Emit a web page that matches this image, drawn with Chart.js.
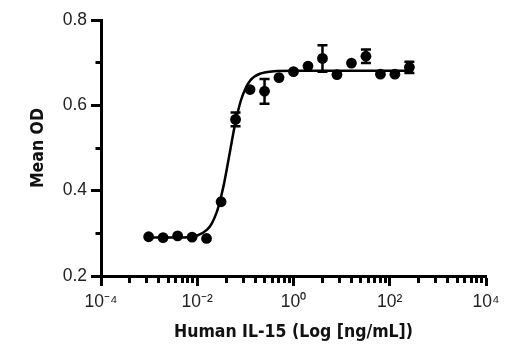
<!DOCTYPE html>
<html>
<head>
<meta charset="utf-8">
<script src="https://cdn.jsdelivr.net/npm/chart.js@4.4.1/dist/chart.umd.min.js"></script>
<style>
  html, body { margin: 0; padding: 0; background: #fff; }
  canvas { display: block; }
</style>
</head>
<body>
<canvas id="chart" width="520" height="350"></canvas>
<script>
// Human IL-15 concentrations (ng/mL), twofold dilution series
const concentrations = [0.000977, 0.00195, 0.00391, 0.00781, 0.0156, 0.0313, 0.0625, 0.125, 0.25, 0.5,
                        1, 2, 4, 8, 16, 32, 64, 128, 256];
// Mean optical density at each concentration
const meanOD = [0.292, 0.290, 0.294, 0.291, 0.288, 0.374, 0.567, 0.637, 0.633, 0.665,
                0.679, 0.692, 0.710, 0.672, 0.699, 0.715, 0.673, 0.673, 0.689];
// Error (+/-) on the mean OD; 0 where the bar hides behind the marker
const odError = [0, 0, 0, 0, 0, 0, 0.016, 0, 0.029, 0,
                 0, 0, 0.031, 0, 0, 0.016, 0, 0, 0.013];

// Fitted dose-response curve
const fitConc = [0.000977, 0.004, 0.01, 0.0158, 0.02, 0.0251, 0.0282, 0.0316, 0.0355, 0.0398,
                 0.0447, 0.0501, 0.0562, 0.0631, 0.0794, 0.1, 0.126, 0.158, 0.2, 0.251,
                 0.398, 1, 10, 256];
const fitOD = [0.290, 0.290, 0.295, 0.308, 0.323, 0.348, 0.366, 0.388, 0.413, 0.442,
               0.473, 0.504, 0.535, 0.563, 0.609, 0.639, 0.658, 0.668, 0.674, 0.677,
               0.680, 0.681, 0.681, 0.681];

// Axis ticks
const xMajorTicks = [1e-4, 1e-2, 1, 1e2, 1e4];
const xMajorLabels = ['10\u207B\u2074', '10\u207B\u00B2', '10\u2070', '10\u00B2', '10\u2074'];
const xMinorSteps = [4, 9, 16, 25, 36, 49, 64, 81];
const yTicks = [0.2, 0.3, 0.4, 0.5, 0.6, 0.7, 0.8];
const yTickLabels = ['0.2', '', '0.4', '', '0.6', '', '0.8'];

const tickFont = { family: "'Liberation Sans', Arial, sans-serif", size: 17.5 };
const titleFont = { family: "'DejaVu Sans Condensed', 'DejaVu Sans', sans-serif", size: 17.5, weight: 'bold' };

function majorIndex(v) {
  return xMajorTicks.findIndex(m => Math.abs(Math.log10(v) - Math.log10(m)) < 1e-6);
}

// vertical error bars with caps, placed through the chart scales
const errorBars = {
  id: 'errorBars',
  afterDatasetsDraw(chart) {
    const { ctx, scales: { x, y } } = chart;
    ctx.save();
    ctx.strokeStyle = '#000';
    ctx.lineWidth = 2.5;
    concentrations.forEach((c, i) => {
      const e = odError[i];
      if (!e) return;
      const px = x.getPixelForValue(c);
      const top = y.getPixelForValue(meanOD[i] + e);
      const bot = y.getPixelForValue(meanOD[i] - e);
      ctx.beginPath();
      ctx.moveTo(px, top); ctx.lineTo(px, bot);
      ctx.moveTo(px - 5, top); ctx.lineTo(px + 5, top);
      ctx.moveTo(px - 5, bot); ctx.lineTo(px + 5, bot);
      ctx.stroke();
    });
    ctx.restore();
  }
};

new Chart(document.getElementById('chart'), {
  type: 'scatter',
  data: {
    datasets: [
      {
        label: 'Fit',
        data: fitConc.map((c, i) => ({ x: c, y: fitOD[i] })),
        showLine: true,
        borderColor: '#000',
        borderWidth: 2.5,
        pointRadius: 0,
        pointHoverRadius: 0,
        cubicInterpolationMode: 'monotone',
        order: 2
      },
      {
        label: 'Mean OD',
        data: concentrations.map((c, i) => ({ x: c, y: meanOD[i] })),
        showLine: false,
        pointRadius: 5.4,
        pointBackgroundColor: '#000',
        pointBorderWidth: 0,
        order: 1
      }
    ]
  },
  options: {
    responsive: false,
    animation: false,
    devicePixelRatio: 1,
    layout: { padding: { left: 0, top: 20, right: 34, bottom: 0 } },
    plugins: { legend: { display: false }, tooltip: { enabled: false } },
    scales: {
      x: {
        type: 'logarithmic',
        position: 'bottom',
        min: 1e-4,
        max: 1e4,
        afterBuildTicks(scale) {
          const vals = [];
          xMajorTicks.forEach((m, i) => {
            vals.push(m);
            if (i < xMajorTicks.length - 1) xMinorSteps.forEach(s => vals.push(m * s));
          });
          scale.ticks = vals.map(v => ({ value: v }));
        },
        afterFit(scale) { scale.height = 74; },
        border: { display: true, color: '#000', width: 3 },
        grid: {
          display: true,
          drawOnChartArea: false,
          drawTicks: true,
          tickLength: 10,
          tickWidth: 3,
          tickColor: '#000',
          tickBorderDash: ctx => (ctx.tick && majorIndex(ctx.tick.value) < 0) ? [5, 100] : []
        },
        ticks: {
          autoSkip: false,
          maxRotation: 0,
          minRotation: 0,
          padding: 6,
          color: '#222',
          font: tickFont,
          callback: (v) => {
            const i = majorIndex(v);
            return i >= 0 ? xMajorLabels[i] : '';
          }
        },
        title: {
          display: true,
          text: 'Human IL-15 (Log [ng/mL])',
          color: '#111',
          font: titleFont,
          padding: { top: 0, bottom: 7 }
        }
      },
      y: {
        type: 'linear',
        position: 'left',
        min: 0.2,
        max: 0.8,
        afterBuildTicks(scale) {
          scale.ticks = yTicks.map(v => ({ value: v }));
        },
        afterFit(scale) { scale.width = 101; },
        border: { display: true, color: '#000', width: 3 },
        grid: {
          display: true,
          drawOnChartArea: false,
          drawTicks: true,
          tickLength: 10,
          tickWidth: 3,
          tickColor: '#000',
          tickBorderDash: ctx => (ctx.index % 2 === 1) ? [0, 4.5, 10, 100] : []
        },
        ticks: {
          padding: 4,
          color: '#222',
          font: tickFont,
          callback: (v, i) => yTickLabels[i]
        },
        title: {
          display: true,
          text: 'Mean OD',
          color: '#111',
          font: titleFont,
          padding: { top: 28, bottom: 0 }
        }
      }
    }
  },
  plugins: [errorBars]
});
</script>
</body>
</html>
